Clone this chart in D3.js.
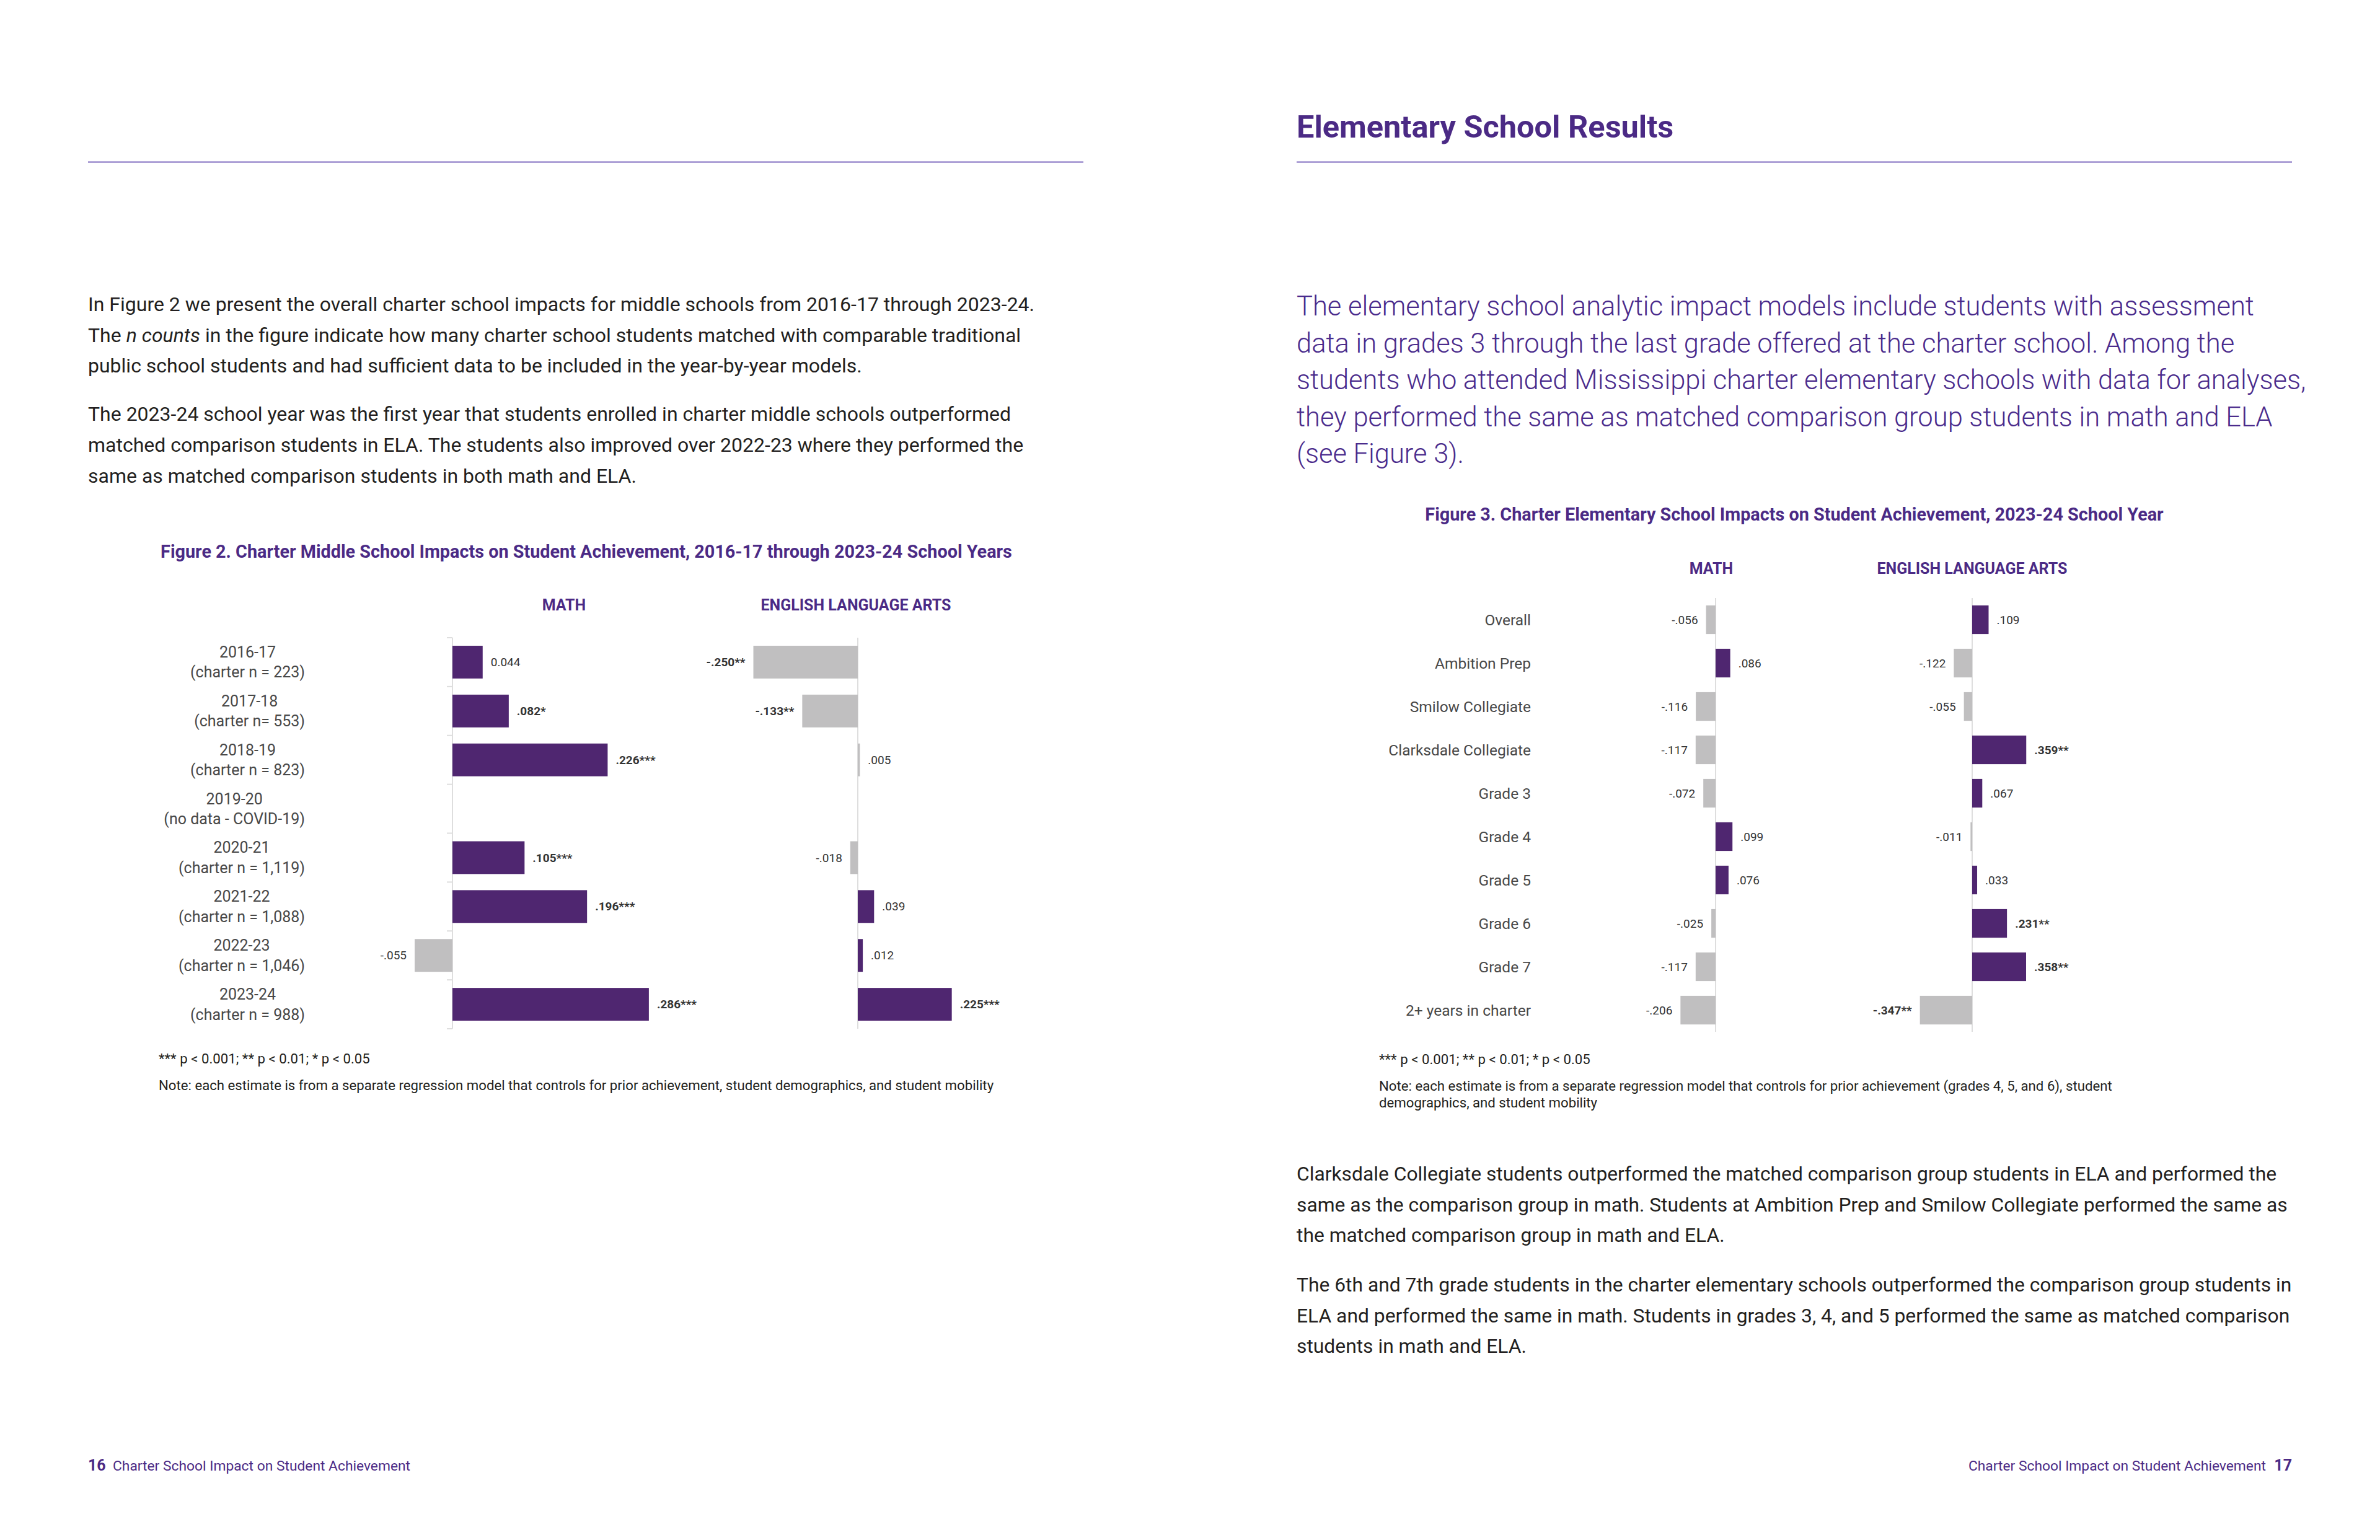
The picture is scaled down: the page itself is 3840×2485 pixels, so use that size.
<!DOCTYPE html>
<html>
<head>
<meta charset="utf-8">
<script src="https://cdn.jsdelivr.net/npm/d3@7"></script>
<style>
  html, body { margin: 0; padding: 0; background: #ffffff; }
  svg { display: block; font-family: Roboto, "Noto Sans", sans-serif; }
</style>
</head>
<body>
<script>
// ---------------- DATA ----------------
// Figure 2 (middle schools)
const years = ["2016-17", "2017-18", "2018-19", "2019-20", "2020-21", "2021-22", "2022-23", "2023-24"];
const yearNotes = ["(charter n = 223)", "(charter n= 553)", "(charter n = 823)", "(no data - COVID-19)",
                   "(charter n = 1,119)", "(charter n = 1,088)", "(charter n = 1,046)", "(charter n = 988)"];
const mathMiddle = [0.044, 0.082, 0.226, null, 0.105, 0.196, -0.055, 0.286];
const mathMiddleLabels = ["0.044", ".082*", ".226***", "", ".105***", ".196***", "-.055", ".286***"];
const elaMiddle = [-0.250, -0.133, 0.005, null, -0.018, 0.039, 0.012, 0.225];
const elaMiddleLabels = ["-.250**", "-.133**", ".005", "", "-.018", ".039", ".012", ".225***"];

// Figure 3 (elementary schools, 2023-24)
const elemCats = ["Overall", "Ambition Prep", "Smilow Collegiate", "Clarksdale Collegiate", "Grade 3",
                  "Grade 4", "Grade 5", "Grade 6", "Grade 7", "2+ years in charter"];
const mathElem = [-0.056, 0.086, -0.116, -0.117, -0.072, 0.099, 0.076, -0.025, -0.117, -0.206];
const mathElemLabels = ["-.056", ".086", "-.116", "-.117", "-.072", ".099", ".076", "-.025", "-.117", "-.206"];
const elaElem = [0.109, -0.122, -0.055, 0.359, 0.067, -0.011, 0.033, 0.231, 0.358, -0.347];
const elaElemLabels = [".109", "-.122", "-.055", ".359**", ".067", "-.011", ".033", ".231**", ".358**", "-.347**"];

// Texts
const leftPara1 = [
  "In Figure 2 we present the overall charter school impacts for middle schools from 2016-17 through 2023-24.",
  "The |n counts| in the figure indicate how many charter school students matched with comparable traditional",
  "public school students and had sufficient data to be included in the year-by-year models."
];
const leftPara2 = [
  "The 2023-24 school year was the first year that students enrolled in charter middle schools outperformed",
  "matched comparison students in ELA. The students also improved over 2022-23 where they performed the",
  "same as matched comparison students in both math and ELA."
];
const rightIntro = [
  "The elementary school analytic impact models include students with assessment",
  "data in grades 3 through the last grade offered at the charter school. Among the",
  "students who attended Mississippi charter elementary schools with data for analyses,",
  "they performed the same as matched comparison group students in math and ELA",
  "(see Figure 3)."
];
const rightPara1 = [
  "Clarksdale Collegiate students outperformed the matched comparison group students in ELA and performed the",
  "same as the comparison group in math. Students at Ambition Prep and Smilow Collegiate performed the same as",
  "the matched comparison group in math and ELA."
];
const rightPara2 = [
  "The 6th and 7th grade students in the charter elementary schools outperformed the comparison group students in",
  "ELA and performed the same in math. Students in grades 3, 4, and 5 performed the same as matched comparison",
  "students in math and ELA."
];
const fig2Title = "Figure 2. Charter Middle School Impacts on Student Achievement, 2016-17 through 2023-24 School Years";
const fig3Title = "Figure 3. Charter Elementary School Impacts on Student Achievement, 2023-24 School Year";
const panelHeaders = ["MATH", "ENGLISH LANGUAGE ARTS"];
const sigNote = "*** p < 0.001; ** p < 0.01; * p < 0.05";
const fig2Note = ["Note: each estimate is from a separate regression model that controls for prior achievement, student demographics, and student mobility"];
const fig3Note = ["Note: each estimate is from a separate regression model that controls for prior achievement (grades 4, 5, and 6), student",
                  "demographics, and student mobility"];
const heading = "Elementary School Results";
const footerText = "Charter School Impact on Student Achievement";

// ---------------- STYLE ----------------
const PURPLE = "#4f2670";
const GRAY = "#c0bfc0";
const HEAD = "#4b2a85";
const TEXT = "#231f20";
const LABEL = "#484848";
const VAL = "#333333";

const svg = d3.select("body").append("svg").attr("width", 3840).attr("height", 2485);

// rules
svg.append("line").attr("x1", 142).attr("x2", 1748).attr("y1", 261.5).attr("y2", 261.5)
  .attr("stroke", "#7d68bd").attr("stroke-width", 2);
svg.append("line").attr("x1", 2092).attr("x2", 3698).attr("y1", 261.5).attr("y2", 261.5)
  .attr("stroke", "#7d68bd").attr("stroke-width", 2);

// heading
svg.append("text").attr("x", 2092).attr("y", 222).attr("fill", HEAD)
  .attr("font-size", 50.5).attr("font-weight", 700).text(heading);

function paragraph(lines, x, y0, lh, size, color, weight) {
  lines.forEach((ln, i) => {
    const t = svg.append("text").attr("x", x).attr("y", y0 + i * lh)
      .attr("font-size", size).attr("fill", color).attr("font-weight", weight || 400);
    ln.split("|").forEach((part, j) => {
      t.append("tspan").attr("font-style", j % 2 === 1 ? "italic" : "normal").text(part);
    });
  });
}
paragraph(leftPara1, 142, 502, 49.5, 32, TEXT);
paragraph(leftPara2, 142, 679, 50, 32, TEXT);
paragraph(rightIntro, 2092, 509, 59.5, 43.5, "#4a2b8c", 300);
paragraph(rightPara1, 2092, 1905, 49.5, 31.8, TEXT);
paragraph(rightPara2, 2092, 2084, 49.5, 31.8, TEXT);

// footers
svg.append("text").attr("x", 142).attr("y", 2373).attr("font-size", 25).attr("font-weight", 700)
  .attr("fill", HEAD).text("16");
svg.append("text").attr("x", 182).attr("y", 2373).attr("font-size", 22.8).attr("fill", HEAD).text(footerText);
svg.append("text").attr("x", 3698).attr("y", 2373).attr("font-size", 25).attr("font-weight", 700)
  .attr("fill", HEAD).attr("text-anchor", "end").text("17");
svg.append("text").attr("x", 3656).attr("y", 2373).attr("font-size", 22.8).attr("fill", HEAD)
  .attr("text-anchor", "end").text(footerText);

// ---------------- CHART HELPERS ----------------
function panel(g, cats, vals, labels, x, y, ticks) {
  const data = cats.map((c, i) => ({ c, v: vals[i], l: labels[i] })).filter(d => d.v !== null);
  const zero = x(0);
  const [r0, r1] = y.range();
  g.append("line").attr("x1", zero).attr("x2", zero).attr("y1", r0).attr("y2", r1)
    .attr("stroke", "#dedede").attr("stroke-width", 2);
  if (ticks) {
    const po = y.paddingOuter() * y.step();
    cats.concat([null]).forEach((c, i) => {
      const ty = c === null ? r1 : y(c) - po;
      g.append("line").attr("x1", zero - 9).attr("x2", zero).attr("y1", ty).attr("y2", ty)
        .attr("stroke", "#dedede").attr("stroke-width", 2);
    });
  }
  g.selectAll("rect.bar").data(data).join("rect").attr("class", "bar")
    .attr("x", d => Math.min(x(d.v), zero))
    .attr("width", d => Math.abs(x(d.v) - zero))
    .attr("y", d => y(d.c))
    .attr("height", y.bandwidth())
    .attr("fill", d => d.v > 0.005 ? PURPLE : GRAY);
  g.selectAll("text.val").data(data).join("text").attr("class", "val")
    .attr("x", d => d.v >= 0 ? x(d.v) + 13 : x(d.v) - 13)
    .attr("y", d => y(d.c) + y.bandwidth() / 2)
    .attr("dy", "0.35em")
    .attr("text-anchor", d => d.v >= 0 ? "start" : "end")
    .attr("font-size", 19)
    .attr("font-weight", d => d.l.includes("*") ? 700 : 400)
    .attr("fill", VAL)
    .text(d => d.l);
}

// ---------------- FIGURE 2 ----------------
const f2 = svg.append("g");
f2.append("text").attr("x", 946).attr("y", 900).attr("text-anchor", "middle")
  .attr("font-size", 28.8).attr("font-weight", 700).attr("fill", HEAD).text(fig2Title);
f2.append("text").attr("x", 910).attr("y", 985).attr("text-anchor", "middle")
  .attr("font-size", 25).attr("font-weight", 700).attr("fill", HEAD).text(panelHeaders[0]);
f2.append("text").attr("x", 1381).attr("y", 985).attr("text-anchor", "middle")
  .attr("font-size", 25).attr("font-weight", 700).attr("fill", HEAD).text(panelHeaders[1]);

const y2 = d3.scaleBand().domain(years).range([1029, 1660]).paddingInner(0.33).paddingOuter(0.165);
const xMath2 = d3.scaleLinear().domain([-0.1, 0.3]).range([730 - 110.8, 730 + 332.4]);
const xEla2 = d3.scaleLinear().domain([-0.3, 0.3]).range([1384 - 202.2, 1384 + 202.2]);
panel(f2.append("g"), years, mathMiddle, mathMiddleLabels, xMath2, y2, true);
panel(f2.append("g"), years, elaMiddle, elaMiddleLabels, xEla2, y2, false);

// category labels (two lines, centred within a right-aligned block)
years.forEach((yr, i) => {
  const cy = y2(yr) + y2.bandwidth() / 2;
  const g = f2.append("g");
  const t1 = g.append("text").attr("y", cy - 7.5).attr("font-size", 25).attr("fill", LABEL)
    .attr("text-anchor", "middle").text(yr);
  const t2 = g.append("text").attr("y", cy + 25).attr("font-size", 25).attr("fill", LABEL)
    .attr("text-anchor", "middle").text(yearNotes[i]);
  const w = Math.max(t1.node().getComputedTextLength(), t2.node().getComputedTextLength());
  t1.attr("x", 492 - w / 2);
  t2.attr("x", 492 - w / 2);
});

f2.append("text").attr("x", 256).attr("y", 1716).attr("font-size", 22.2).attr("fill", TEXT).text(sigNote);
fig2Note.forEach((ln, i) => f2.append("text").attr("x", 256).attr("y", 1759 + i * 27)
  .attr("font-size", 22.2).attr("fill", TEXT).text(ln));

// ---------------- FIGURE 3 ----------------
const f3 = svg.append("g");
f3.append("text").attr("x", 2895).attr("y", 840).attr("text-anchor", "middle")
  .attr("font-size", 28.8).attr("font-weight", 700).attr("fill", HEAD).text(fig3Title);
f3.append("text").attr("x", 2761).attr("y", 926).attr("text-anchor", "middle")
  .attr("font-size", 25).attr("font-weight", 700).attr("fill", HEAD).text(panelHeaders[0]);
f3.append("text").attr("x", 3182).attr("y", 926).attr("text-anchor", "middle")
  .attr("font-size", 25).attr("font-weight", 700).attr("fill", HEAD).text(panelHeaders[1]);

const y3 = d3.scaleBand().domain(elemCats).range([965, 1665]).paddingInner(0.34).paddingOuter(0.17);
const xMath3 = d3.scaleLinear().domain([-0.3, 0.3]).range([2768 - 82.5, 2768 + 82.5]);
const xEla3 = d3.scaleLinear().domain([-0.4, 0.4]).range([3182 - 97.2, 3182 + 97.2]);
panel(f3.append("g"), elemCats, mathElem, mathElemLabels, xMath3, y3, false);
panel(f3.append("g"), elemCats, elaElem, elaElemLabels, xEla3, y3, false);

f3.selectAll("text.cat").data(elemCats).join("text").attr("class", "cat")
  .attr("x", 2470).attr("y", d => y3(d) + y3.bandwidth() / 2).attr("dy", "0.35em")
  .attr("text-anchor", "end").attr("font-size", 24.5).attr("fill", LABEL).text(d => d);

f3.append("text").attr("x", 2225).attr("y", 1717).attr("font-size", 22.2).attr("fill", TEXT).text(sigNote);
fig3Note.forEach((ln, i) => f3.append("text").attr("x", 2225).attr("y", 1760 + i * 27)
  .attr("font-size", 22.2).attr("fill", TEXT).text(ln));
</script>
</body>
</html>
